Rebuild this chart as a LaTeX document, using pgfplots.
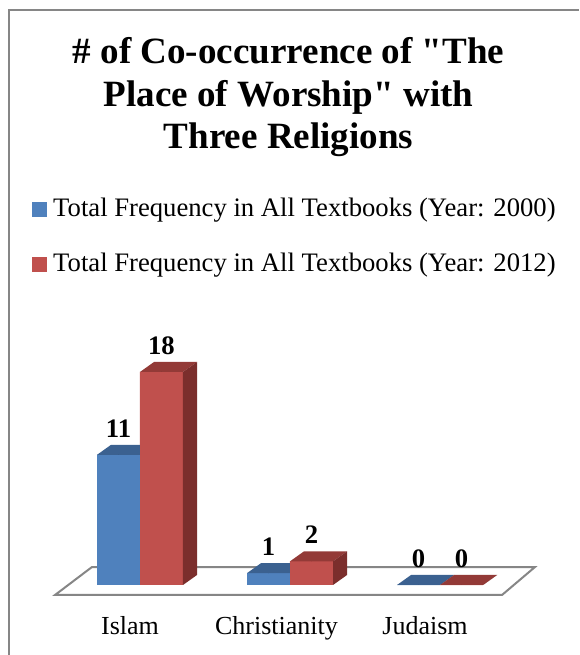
\documentclass[border=0pt]{standalone}
\usepackage{fontspec}
\setmainfont{Liberation Serif}
\usepackage{pgfplots}
\usepackage{pgfplotstable}
\pgfplotsset{compat=1.18}
\definecolor{bFront}{HTML}{4F81BD}
\definecolor{bTop}{HTML}{3B6190}
\definecolor{bSide}{HTML}{2F5381}
\definecolor{rFront}{HTML}{C0504D}
\definecolor{rTop}{HTML}{933A37}
\definecolor{rSide}{HTML}{7B2E2C}
\definecolor{frame}{HTML}{868686}

\pgfplotstableread{
x y
0 11
1 1
2 0
}\bluedata
\pgfplotstableread{
x y
0 18
1 2
2 0
}\reddata

% front, top and side faces of a bar whose top-front centre is the data point
\newcommand{\threeD}[3]{%
  \pgfmathsetmacro\hh{\yval*8.875}%
  \fill[#1] (-16.125pt,0pt) rectangle (16.125pt,{-\hh*1pt});
  \fill[#2] (-16.125pt,0pt) -- (16.125pt,0pt) -- (26.625pt,7.5pt) -- (-5.625pt,7.5pt) -- cycle;
  \fill[#3] (16.125pt,0pt) -- (26.625pt,7.5pt) -- (26.625pt,{(7.5-\hh)*1pt}) -- (16.125pt,{-\hh*1pt}) -- cycle;
}

\begin{document}
\begin{tikzpicture}[x=0.75pt,y=0.75pt]
\useasboundingbox (0,0) rectangle (579,655);
\draw[frame, line width=1.5pt] (8.5,0) -- (8.5,644.5) -- (579,644.5);
\node[font=\bfseries\fontsize{27.8}{31.9}\selectfont, anchor=base] at (288.5,591) {\# of Co-occurrence of \textquotedbl The};
\node[font=\bfseries\fontsize{27.8}{31.9}\selectfont, anchor=base] at (288.5,548.5) {Place of Worship\textquotedbl{} with};
\node[font=\bfseries\fontsize{27.8}{31.9}\selectfont, anchor=base] at (288.5,506) {Three Religions};
\begin{axis}[
  at={(105pt,52.5pt)}, anchor=origin,
  x=112.5pt, y=8.875pt,
  xmin=-0.6, xmax=2.7, ymin=0, ymax=20,
  clip=false,
  /pgf/number format/assume math mode=true,
  axis line style={draw=none},
  ytick=\empty,
  xtick={-0.0667,0.91,1.9},
  xticklabels={Islam,Christianity,Judaism},
  major tick length=0pt,
  xticklabel style={anchor=base, yshift=-37.5pt, font=\fontsize{19.5}{23}\selectfont},
  legend style={at={(-0.0364,1.6386)}, anchor=north west, draw=none, fill=none,
    inner sep=0pt, font=\fontsize{20}{24}\selectfont, row sep=23.25pt,
    /tikz/column sep=4.5pt, nodes={inner sep=0pt, text height=14pt, text depth=4pt}},
  legend cell align=left,
  legend image code/.code={\fill[#1] (0pt,-5.75pt) rectangle (11.25pt,5.5pt);},
  barlabel/.style={only marks, mark=*, mark size=0pt, draw=none, fill=none, forget plot,
    nodes near coords,
    every node near coord/.style={font=\bfseries\fontsize{20}{24}\selectfont, anchor=base, inner sep=0pt, yshift=13.125pt, text=black}},
  bar3d/.style n args={3}{only marks, mark=*, mark size=0pt, draw=none, fill=none, scatter, forget plot,
    visualization depends on={y \as \yval},
    scatter/@pre marker code/.code={\threeD{#1}{#2}{#3}},
    scatter/@post marker code/.code={}},
]
\draw[frame, line width=1.5pt, fill=white] (axis cs:-0.5667,-0.845) -- (axis cs:2.4133,-0.845) -- (axis cs:2.6333,1.521) -- (axis cs:-0.32,1.521) -- cycle;
\addplot[ybar, bar width=0.2867, bar shift=-0.1433, fill=bFront, draw=none] table[x=x,y=y] {\bluedata};
\addlegendentry{Total Frequency in All Textbooks (Year: 2000)}
\addplot[ybar, bar width=0.2867, bar shift=0.1433, fill=rFront, draw=none] table[x=x,y=y] {\reddata};
\addlegendentry{Total Frequency in All Textbooks (Year: 2012)}
\addplot[bar3d={bFront}{bTop}{bSide}] table[x expr=\thisrow{x}-0.1433, y=y] {\bluedata};
\addplot[bar3d={rFront}{rTop}{rSide}] table[x expr=\thisrow{x}+0.1433, y=y] {\reddata};
\addplot[barlabel] table[x expr=\thisrow{x}-0.1433, y=y] {\bluedata};
\addplot[barlabel] table[x expr=\thisrow{x}+0.1433, y=y] {\reddata};
\end{axis}
\end{tikzpicture}
\end{document}
